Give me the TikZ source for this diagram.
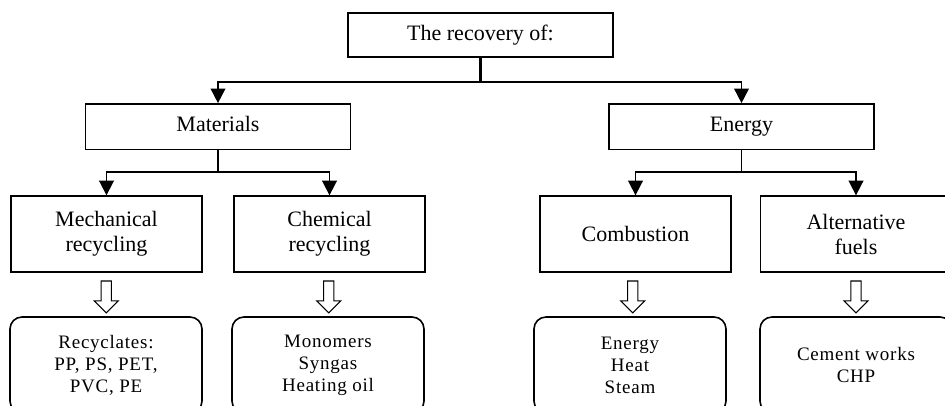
\documentclass[tikz,border=0pt]{standalone}
\usepackage{fontspec}
\setmainfont{Liberation Serif}
\newfontfamily\spacedfont[LetterSpace=4]{Liberation Serif}
\usetikzlibrary{arrows.meta, positioning, shapes.arrows, calc}
\tikzset{
  every picture/.style={line width=1pt},
  box/.style={draw, rectangle, align=center, inner sep=2pt, minimum width=#1, font=\fontsize{16.5}{18.75}\selectfont},
  box/.default=143.25pt,
  head/.style={box=198.75pt, minimum height=34pt, text height=11.5pt, text depth=3.5pt},
  proc/.style={box, minimum height=57pt},
  result/.style={draw, rectangle, rounded corners=9pt, line width=1.2pt, align=center, minimum width=144pt, minimum height=72pt, font=\spacedfont\fontsize{14.25}{16.5}\selectfont},
  hollow/.style={draw, single arrow, rotate=-90, minimum height=24pt, inner xsep=0pt, inner ysep=3.4pt, single arrow head extend=5.3pt, line width=0.8pt},
  link/.style={line width=1.3pt},
  stem/.style={line width=2.2pt},
  arrow/.style={-{Triangle[length=11pt, width=11pt]}, line width=1.3pt},
}

\begin{document}
\begin{tikzpicture}[x=0.75pt, y=-0.75pt]
  \clip (0,0) rectangle (945,405);
  \node[head, minimum height=33pt] (top) at (480.5, 35) {The recovery of:};
  \node[head] (mat) at (218, 126.5) {Materials};
  \node[head] (en)  at (741.5, 126.5) {Energy};
  \node[proc] (mech) at (106.5, 234) {Mechanical\\recycling};
  \node[proc] (chem) at (329.5, 234) {Chemical\\recycling};
  \node[proc] (comb) at (635.5, 234) {Combustion};
  \node[proc] (alt)  at (856, 234)   {Alternative\\fuels};
  \node[result] (rmech) at (106, 365) {Recyclates:\\PP, PS, PET,\\PVC, PE};
  \node[result] (rchem) at (328, 365) {Monomers\\Syngas\\Heating oil};
  \node[result] (rcomb) at (630, 365) {Energy\\Heat\\Steam};
  \node[result] (ralt)  at (856, 365) {Cement works\\CHP};
  \coordinate (j0) at ($(top.south)+(0,24)$);
  \coordinate (j1) at ($(mat.south)+(0,22)$);
  \coordinate (j2) at ($(en.south)+(0,22)$);
  \draw[stem] (top.south) -- (j0);
  \draw[link] (mat.south) -- (j1);
  \draw[link] (en.south) -- (j2);
  \foreach \n in {mat,en} \draw[arrow] (j0) -| (\n.north);
  \foreach \n in {mech,chem} \draw[arrow] (j1) -| (\n.north);
  \foreach \n in {comb,alt} \draw[arrow] (j2) -| (\n.north);
  \foreach \a/\b in {mech/rmech, chem/rchem, comb/rcomb, alt/ralt}
    \node[hollow] (h\a) at ($(\a.south)!0.5!(\b.north)$) {};
\end{tikzpicture}
\end{document}
